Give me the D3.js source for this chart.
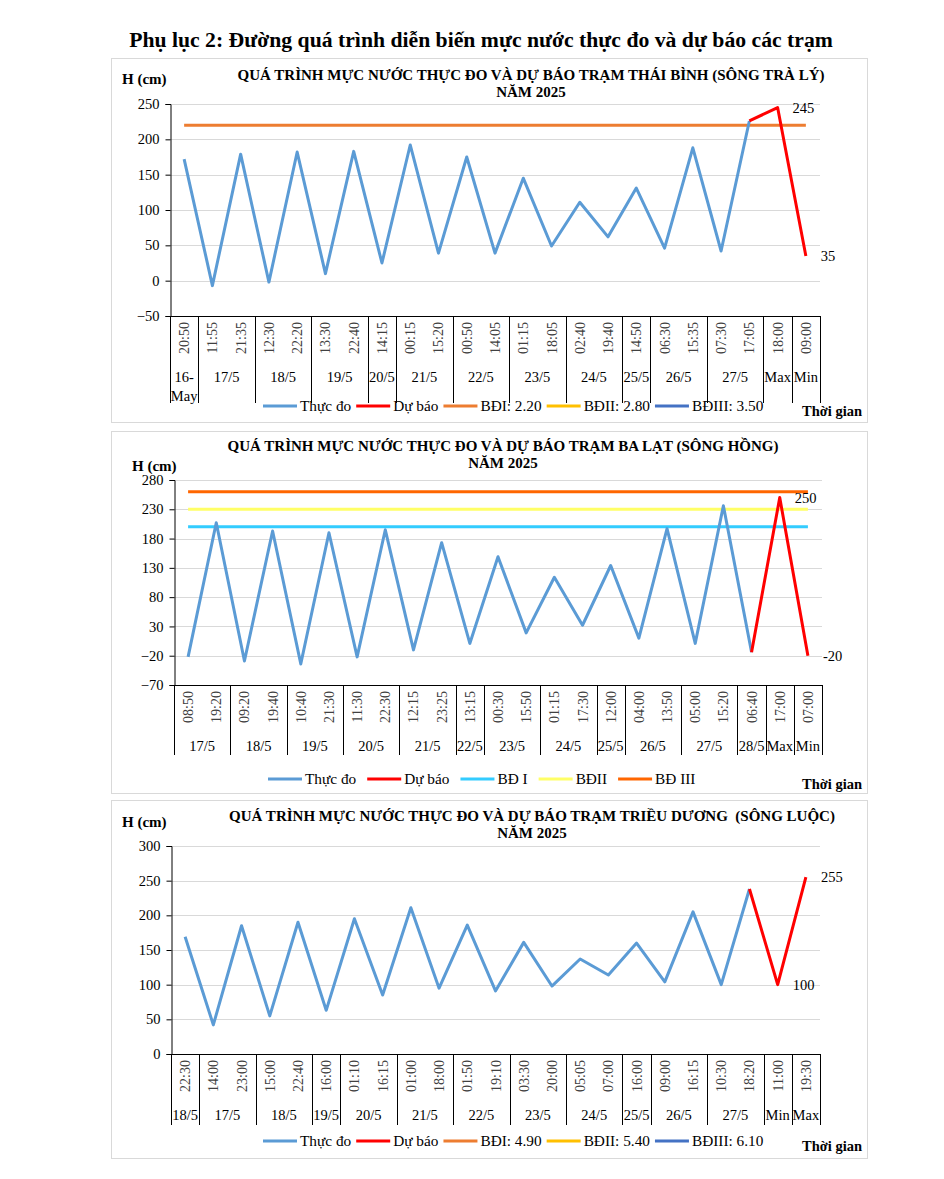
<!DOCTYPE html>
<html>
<head>
<meta charset="utf-8">
<script src="https://cdn.jsdelivr.net/npm/d3@7"></script>
<style>
  body { margin: 0; background: #fff; }
  svg { display: block; font-family: "Liberation Serif", "Times New Roman", serif; }
</style>
</head>
<body>
<div id="viz"></div>
<script>
// ---- data: Thái Bình (sông Trà Lý)
const times1 = ["20:50","11:55","21:35","12:30","22:20","13:30","22:40","14:15","00:15","15:20","00:50","14:05","01:15","18:05","02:40","19:40","14:50","06:30","15:35","07:30","17:05","18:00","09:00"];
const groups1 = [["16-\nMay",1],["17/5",2],["18/5",2],["19/5",2],["20/5",1],["21/5",2],["22/5",2],["23/5",2],["24/5",2],["25/5",1],["26/5",2],["27/5",2],["Max",1],["Min",1]];
const measured1 = [172,-7,179,-2,182,10,183,25,192,39,175,39,145,49,111,62,131,46,188,42,226,null,null];
const forecast1 = [null,null,null,null,null,null,null,null,null,null,null,null,null,null,null,null,null,null,null,null,226,245,35];
const levels1 = [["BĐI: 2.20",220],["BĐII: 2.80",280],["BĐIII: 3.50",350]];
const ticks1 = [250,200,150,100,50,0,-50];

// ---- data: Ba Lạt (sông Hồng)
const times2 = ["08:50","19:20","09:20","19:40","10:40","21:30","11:30","22:30","12:15","23:25","13:15","00:30","15:50","01:15","17:30","12:00","04:00","13:50","05:00","15:20","06:40","17:00","07:00"];
const groups2 = [["17/5",2],["18/5",2],["19/5",2],["20/5",2],["21/5",2],["22/5",1],["23/5",2],["24/5",2],["25/5",1],["26/5",2],["27/5",2],["28/5",1],["Max",1],["Min",1]];
const measured2 = [-22,207,-29,193,-34,190,-22,195,-10,173,1,149,19,114,32,134,10,197,1,236,-14,null,null];
const forecast2 = [null,null,null,null,null,null,null,null,null,null,null,null,null,null,null,null,null,null,null,null,-14,250,-20];
const levels2 = [["BĐ I",200],["BĐII",230],["BĐ III",260]];
const ticks2 = [280,230,180,130,80,30,-20,-70];

// ---- data: Triều Dương (sông Luộc)
const times3 = ["22:30","14:00","23:00","15:00","22:40","16:00","01:10","16:15","01:00","18:00","01:50","19:10","03:30","20:00","05:05","07:00","16:00","09:00","16:15","10:30","18:20","11:00","19:30"];
const groups3 = [["18/5",1],["17/5",2],["18/5",2],["19/5",1],["20/5",2],["21/5",2],["22/5",2],["23/5",2],["24/5",2],["25/5",1],["26/5",2],["27/5",2],["Min",1],["Max",1]];
const measured3 = [169,42,185,55,190,63,195,85,211,95,186,91,161,98,137,114,160,104,205,100,238,null,null];
const forecast3 = [null,null,null,null,null,null,null,null,null,null,null,null,null,null,null,null,null,null,null,null,238,100,255];
const levels3 = [["BĐI: 4.90",490],["BĐII: 5.40",540],["BĐIII: 6.10",610]];
const ticks3 = [300,250,200,150,100,50,0];

const colMeasured = "#5b9bd5", colForecast = "#ff0000";
const levelColorsA = ["#ed7d31","#ffc000","#4472c4"];
const levelColorsB = ["#33ccff","#ffff66","#ff6600"];

const W = 944, H = 1179;
const svg = d3.select("#viz").append("svg").attr("width", W).attr("height", H);

svg.append("text")
  .attr("x", 481).attr("y", 47)
  .attr("text-anchor", "middle")
  .attr("font-weight", "bold").attr("font-size", 21.7)
  .text("Phụ lục 2: Đường quá trình diễn biến mực nước thực đo và dự báo các trạm");

function drawChart(c) {
  const g = svg.append("g");
  g.append("rect")
    .attr("x", c.box[0] + 0.5).attr("y", c.box[1] + 0.5)
    .attr("width", c.box[2] - c.box[0]).attr("height", c.box[3] - c.box[1])
    .attr("fill", "#fff").attr("stroke", "#d9d9d9");

  // titles
  g.append("text").attr("x", c.titleX).attr("y", c.titleY)
    .attr("text-anchor", "middle").attr("font-weight", "bold").attr("font-size", 15)
    .style("white-space", "pre")
    .text(c.title);
  g.append("text").attr("x", c.titleX).attr("y", c.titleY + 17)
    .attr("text-anchor", "middle").attr("font-weight", "bold").attr("font-size", 15)
    .text("NĂM 2025");
  g.append("text").attr("x", c.hx).attr("y", c.hy)
    .attr("font-weight", "bold").attr("font-size", 15)
    .text("H (cm)");

  const x = d3.scaleBand().domain(d3.range(c.times.length)).range([c.left, c.right]);
  const y = d3.scaleLinear().domain(c.domain).range([c.bottom, c.top]);
  const cx = i => x(i) + x.bandwidth() / 2;

  // grid
  g.append("g").selectAll("line").data(c.ticks).join("line")
    .attr("x1", c.left).attr("x2", c.right)
    .attr("y1", d => Math.round(y(d)) + 0.5).attr("y2", d => Math.round(y(d)) + 0.5)
    .attr("stroke", "#d9d9d9");

  // y axis
  const yAxis = d3.axisLeft(y).tickValues(c.ticks).tickSize(5).tickPadding(6);
  g.append("g").attr("transform", `translate(${c.left + 0.5},0)`).call(yAxis)
    .call(a => a.select(".domain").attr("stroke", "#000"))
    .call(a => a.selectAll(".tick line").attr("stroke", "#000"))
    .call(a => a.selectAll("text").attr("font-size", 14.5).attr("fill", "#000")
      .attr("font-family", "Liberation Serif, serif"));

  // x axis line
  g.append("line").attr("x1", c.left).attr("x2", c.right)
    .attr("y1", c.bottom + 0.5).attr("y2", c.bottom + 0.5).attr("stroke", "#000");

  // time labels
  g.append("g").selectAll("text").data(c.times).join("text")
    .attr("transform", (d, i) => `translate(${cx(i) + 5},${c.bottom + 6}) rotate(-90)`)
    .attr("text-anchor", "end").attr("font-size", 14).attr("fill", "#404040")
    .text(d => d);

  // group separators + labels
  let acc = 0;
  const bounds = [0];
  c.groups.forEach(([, n]) => { acc += n; bounds.push(acc); });
  const step = x.step();
  g.append("g").selectAll("line").data(bounds).join("line")
    .attr("x1", d => Math.round(c.left + d * step) + 0.5).attr("x2", d => Math.round(c.left + d * step) + 0.5)
    .attr("y1", c.bottom).attr("y2", c.sepBottom)
    .attr("stroke", "#000");
  c.groups.forEach(([label, n], k) => {
    const mid = c.left + (bounds[k] + n / 2) * step;
    const parts = label.split("\n");
    const t = g.append("text").attr("x", mid).attr("y", c.groupY)
      .attr("text-anchor", "middle").attr("font-size", 14.5).attr("fill", "#000");
    parts.forEach((p, j) => t.append("tspan").attr("x", mid).attr("dy", j ? 19 : 0).text(p));
  });

  // level lines
  const line = d3.line().defined(d => d[1] != null).x(d => cx(d[0])).y(d => y(d[1]));
  c.levels.forEach(([, v], k) => {
    if (v > c.domain[1] || v < c.domain[0]) return;
    g.append("path")
      .attr("d", line(c.times.map((t, i) => [i, v])))
      .attr("fill", "none").attr("stroke", c.levelColors[k]).attr("stroke-width", 3);
  });

  // series
  g.append("path").attr("d", line(c.measured.map((v, i) => [i, v])))
    .attr("fill", "none").attr("stroke", colMeasured).attr("stroke-width", 3)
    .attr("stroke-linejoin", "round");
  g.append("path").attr("d", line(c.forecast.map((v, i) => [i, v])))
    .attr("fill", "none").attr("stroke", colForecast).attr("stroke-width", 3)
    .attr("stroke-linejoin", "round");

  // data labels on last two forecast points
  [c.forecast.length - 2, c.forecast.length - 1].forEach(i => {
    g.append("text").attr("x", cx(i) + 15).attr("y", y(c.forecast[i]) + 5)
      .attr("font-size", 14.5).attr("fill", "#000").text(c.forecast[i]);
  });

  // legend
  const items = [["Thực đo", colMeasured], ["Dự báo", colForecast]]
    .concat(c.levels.map(([name], k) => [name, c.levelColors[k]]));
  let lx = c.legendX;
  items.forEach(([name, col]) => {
    g.append("line").attr("x1", lx).attr("x2", lx + 34)
      .attr("y1", c.legendY).attr("y2", c.legendY)
      .attr("stroke", col).attr("stroke-width", 3);
    const t = g.append("text").attr("x", lx + 37).attr("y", c.legendY + 5)
      .attr("font-size", 15.3).attr("fill", "#000").text(name);
    lx += 37 + t.node().getComputedTextLength() + c.legendGap;
  });
  g.append("text").attr("x", 862).attr("y", c.legendY + 10)
    .attr("text-anchor", "end").attr("font-weight", "bold").attr("font-size", 14.5)
    .text("Thời gian");
}

drawChart({
  box: [111, 58, 867, 422],
  title: "QUÁ TRÌNH MỰC NƯỚC THỰC ĐO VÀ DỰ BÁO TRẠM THÁI BÌNH (SÔNG TRÀ LÝ)",
  titleX: 531, titleY: 80, hx: 122, hy: 84,
  left: 170, right: 820, top: 104, bottom: 316, domain: [-50, 250], ticks: ticks1,
  times: times1, groups: groups1, measured: measured1, forecast: forecast1,
  levels: levels1, levelColors: levelColorsA,
  groupY: 382, sepBottom: 403, legendX: 263, legendY: 406, legendGap: 5
});
drawChart({
  box: [111, 431, 867, 793],
  title: "QUÁ TRÌNH MỰC NƯỚC THỰC ĐO VÀ DỰ BÁO TRẠM BA LẠT (SÔNG HỒNG)",
  titleX: 503, titleY: 451, hx: 132, hy: 471,
  left: 174, right: 822, top: 480, bottom: 685, domain: [-70, 280], ticks: ticks2,
  times: times2, groups: groups2, measured: measured2, forecast: forecast2,
  levels: levels2, levelColors: levelColorsB,
  groupY: 751, sepBottom: 755, legendX: 268, legendY: 779, legendGap: 11
});
drawChart({
  box: [111, 800, 867, 1158],
  title: "QUÁ TRÌNH MỰC NƯỚC THỰC ĐO VÀ DỰ BÁO TRẠM TRIỀU DƯƠNG  (SÔNG LUỘC)",
  titleX: 532, titleY: 821, hx: 122, hy: 827,
  left: 171, right: 820, top: 846, bottom: 1054, domain: [0, 300], ticks: ticks3,
  times: times3, groups: groups3, measured: measured3, forecast: forecast3,
  levels: levels3, levelColors: levelColorsA,
  groupY: 1120, sepBottom: 1125, legendX: 263, legendY: 1141, legendGap: 5
});
</script>
</body>
</html>
